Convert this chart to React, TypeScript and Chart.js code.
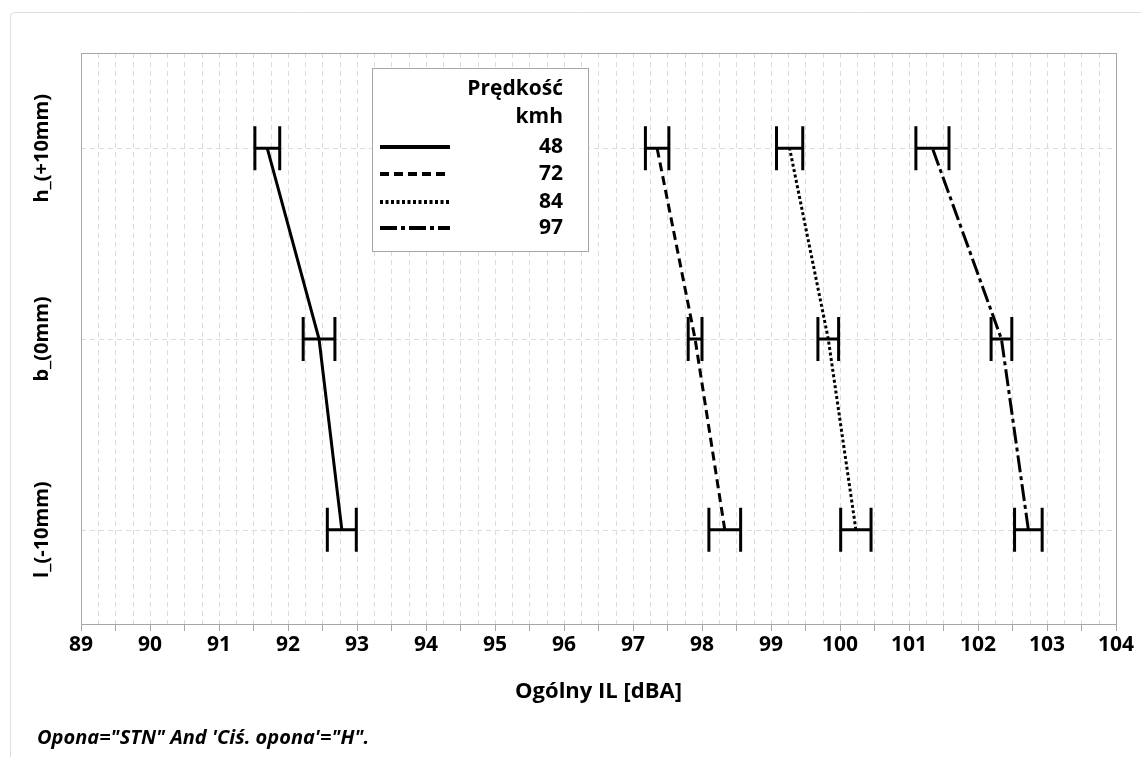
import React, { useEffect, useRef } from "react";
import { Chart, registerables } from "chart.js";

Chart.register(...registerables);

// Rim height levels (bottom to top on the y axis)
const categories = ["l_(-10mm)", "b_(0mm)", "h_(+10mm)"];

// Speeds (km/h) shown in the legend
const speeds = ["48", "72", "84", "97"];

// Mean overall IL [dBA] per level (l, b, h) for each speed
const mean48 = [92.78, 92.45, 91.7];
const mean72 = [98.33, 97.9, 97.35];
const mean84 = [100.23, 99.83, 99.27];
const mean97 = [102.73, 102.34, 101.34];

// Half-width of the interval bars around each mean
const half48 = [0.21, 0.23, 0.18];
const half72 = [0.23, 0.1, 0.17];
const half84 = [0.22, 0.15, 0.19];
const half97 = [0.2, 0.15, 0.24];

// X axis range and tick labels
const xMin = 89;
const xMax = 104;
const xTickLabels = ["89", "90", "91", "92", "93", "94", "95", "96", "97", "98", "99", "100", "101", "102", "103", "104"];

const lineDashes: number[][] = [[], [9, 5], [3, 2.5], [17, 4, 4, 4]];
const means = [mean48, mean72, mean84, mean97];
const halves = [half48, half72, half84, half97];

const FONT = "'Open Sans', 'Noto Sans', sans-serif";

const decorPlugin = {
  id: "decor",
  beforeDraw(chart: any) {
    const { ctx, chartArea, scales } = chart;
    const x = scales.x;
    const y = scales.y;
    ctx.save();
    ctx.fillStyle = "#ffffff";
    ctx.fillRect(0, 0, chart.width, chart.height);

    // outer frame
    ctx.strokeStyle = "#dddddd";
    ctx.lineWidth = 1;
    ctx.beginPath();
    ctx.moveTo(10.5, chart.height);
    ctx.lineTo(10.5, 16.5);
    ctx.arcTo(10.5, 12.5, 14.5, 12.5, 4);
    ctx.lineTo(chart.width, 12.5);
    ctx.stroke();

    // dashed grid
    ctx.strokeStyle = "#dcdcdc";
    ctx.setLineDash([5, 4]);
    for (let v = xMin + 0.25; v < xMax; v += 0.25) {
      const px = Math.round(x.getPixelForValue(v)) + 0.5;
      ctx.beginPath();
      ctx.moveTo(px, chartArea.top);
      ctx.lineTo(px, chartArea.bottom);
      ctx.stroke();
    }
    categories.forEach((_, i) => {
      const py = Math.round(y.getPixelForValue(i)) + 0.5;
      ctx.beginPath();
      ctx.moveTo(chartArea.left, py);
      ctx.lineTo(chartArea.right, py);
      ctx.stroke();
    });
    ctx.setLineDash([]);

    // plot frame and tick marks
    ctx.strokeStyle = "#a6a6a6";
    ctx.strokeRect(
      Math.round(chartArea.left) + 0.5,
      Math.round(chartArea.top) + 0.5,
      Math.round(chartArea.right - chartArea.left),
      Math.round(chartArea.bottom - chartArea.top) - 1
    );
    for (let v = xMin; v <= xMax; v += 0.5) {
      const px = Math.round(x.getPixelForValue(v)) + 0.5;
      ctx.beginPath();
      ctx.moveTo(px, chartArea.bottom);
      ctx.lineTo(px, chartArea.bottom + 6);
      ctx.stroke();
    }

    // category labels, rotated
    ctx.fillStyle = "#000000";
    ctx.font = `bold 20px ${FONT}`;
    ctx.textAlign = "center";
    ctx.textBaseline = "middle";
    categories.forEach((c, i) => {
      ctx.save();
      ctx.translate(42, y.getPixelForValue(i));
      ctx.rotate(-Math.PI / 2);
      ctx.fillText(c, 0, 0);
      ctx.restore();
    });

    // footnote
    ctx.font = `italic bold 20px ${FONT}`;
    ctx.textAlign = "left";
    ctx.textBaseline = "alphabetic";
    ctx.fillText("Opona=\"STN\" And 'Ciś. opona'=\"H\".", 37, 744);
    ctx.restore();
  },
  afterDatasetsDraw(chart: any) {
    const { ctx, scales } = chart;
    const x = scales.x;
    const y = scales.y;
    ctx.save();
    ctx.strokeStyle = "#000000";
    ctx.lineWidth = 3;
    ctx.lineCap = "butt";
    means.forEach((m, s) => {
      m.forEach((v, i) => {
        const lo = x.getPixelForValue(v - halves[s][i]);
        const hi = x.getPixelForValue(v + halves[s][i]);
        const py = y.getPixelForValue(i);
        ctx.beginPath();
        ctx.moveTo(lo, py);
        ctx.lineTo(hi, py);
        ctx.moveTo(lo, py - 22);
        ctx.lineTo(lo, py + 22);
        ctx.moveTo(hi, py - 22);
        ctx.lineTo(hi, py + 22);
        ctx.stroke();
      });
    });

    // legend
    const bx = 372, by = 68, bw = 216, bh = 183;
    ctx.fillStyle = "#ffffff";
    ctx.fillRect(bx, by, bw, bh);
    ctx.strokeStyle = "#a6a6a6";
    ctx.lineWidth = 1;
    ctx.strokeRect(bx + 0.5, by + 0.5, bw, bh);
    ctx.fillStyle = "#000000";
    ctx.font = `bold 21px ${FONT}`;
    ctx.textAlign = "right";
    ctx.textBaseline = "middle";
    ctx.fillText("Prędkość", 563, 89);
    ctx.fillText("kmh", 563, 117);
    const rows = [147, 174, 202, 228];
    speeds.forEach((sp, i) => {
      ctx.fillText(sp, 563, rows[i]);
      ctx.strokeStyle = "#000000";
      ctx.lineWidth = 4;
      ctx.setLineDash(lineDashes[i]);
      ctx.beginPath();
      ctx.moveTo(380, rows[i]);
      ctx.lineTo(450, rows[i]);
      ctx.stroke();
    });
    ctx.restore();
  },
};

export default function App() {
  const ref = useRef<HTMLCanvasElement>(null);

  useEffect(() => {
    if (!ref.current) return;
    const datasets = means.map((m, s) => ({
      label: speeds[s],
      data: m.map((v, i) => ({ x: v, y: i })),
      borderColor: "#000000",
      backgroundColor: "#000000",
      borderWidth: 3,
      borderDash: lineDashes[s],
      pointRadius: 0,
      showLine: true,
      fill: false,
      tension: 0,
    }));
    const chart = new Chart(ref.current, {
      type: "scatter",
      data: { datasets },
      plugins: [decorPlugin],
      options: {
        animation: false,
        responsive: false,
        devicePixelRatio: 1,
        layout: { padding: { left: 81, right: 22, top: 53, bottom: 0 } },
        plugins: { legend: { display: false }, tooltip: { enabled: false } },
        scales: {
          x: {
            type: "linear",
            min: xMin,
            max: xMax,
            afterBuildTicks: (scale: any) => {
              scale.ticks = xTickLabels.map((t) => ({ value: Number(t) }));
            },
            afterFit: (scale: any) => {
              scale.height = 132;
            },
            grid: { display: false, drawTicks: false },
            border: { display: false },
            ticks: {
              autoSkip: false,
              maxRotation: 0,
              padding: 7,
              color: "#000000",
              font: { family: FONT, size: 21, weight: "bold" },
              callback: (v: any) => String(v),
            },
            title: {
              display: true,
              text: "Ogólny IL [dBA]",
              color: "#000000",
              font: { family: FONT, size: 22, weight: "bold" },
              padding: { top: 0, bottom: 52 },
            },
          },
          y: {
            type: "linear",
            min: -0.5,
            max: 2.5,
            display: false,
          },
        },
      },
    });
    return () => chart.destroy();
  }, []);

  return (
    <div style={{ position: "absolute", left: 0, top: 0, width: 1141, height: 757 }}>
      <canvas ref={ref} width={1141} height={757} style={{ width: 1141, height: 757 }} />
    </div>
  );
}
